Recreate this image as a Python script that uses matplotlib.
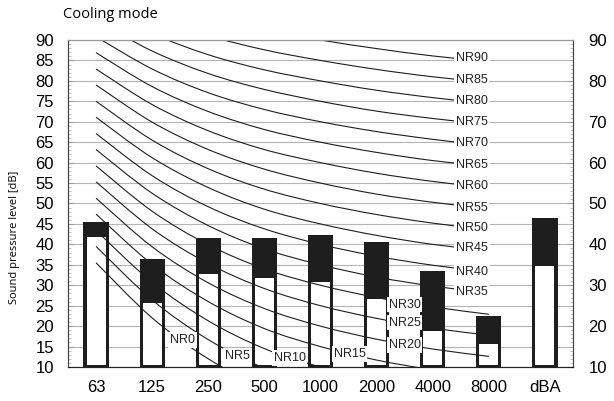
import matplotlib
matplotlib.use("Agg")
import matplotlib.pyplot as plt
from matplotlib.ticker import MultipleLocator
from matplotlib.path import Path
from matplotlib.patches import PathPatch

# octave bands + overall
bands = ["63", "125", "250", "500", "1000", "2000", "4000", "8000", "dBA"]
level_max = [45.5, 36.4, 41.5, 41.5, 42.4, 40.5, 33.5, 22.5, 46.4]
level_min = [41.9, 25.7, 32.7, 31.7, 30.8, 26.7, 18.8, 15.6, 34.6]

# NR rating curves, values at 63 ... 8000 Hz
nr_levels = [0, 5, 10, 15, 20, 25, 30, 35, 40, 45, 50, 55, 60, 65, 70, 75, 80, 85, 90]
nr_curves = [
    [35.5, 22.0, 12.0, 4.8, 0.0, -3.5, -6.1, -8.0],
    [39.5, 26.4, 16.7, 9.7, 5.0, 1.6, -1.0, -2.9],
    [43.4, 30.7, 21.3, 14.5, 10.0, 6.7, 4.2, 2.3],
    [47.4, 35.1, 26.0, 19.4, 15.0, 11.7, 9.3, 7.5],
    [51.3, 39.4, 30.6, 24.3, 20.0, 16.8, 14.4, 12.6],
    [55.3, 43.8, 35.3, 29.2, 25.0, 21.9, 19.5, 17.8],
    [59.2, 48.1, 39.9, 34.0, 30.0, 27.0, 24.7, 22.9],
    [63.2, 52.5, 44.6, 38.9, 35.0, 32.0, 29.8, 28.1],
    [67.1, 56.8, 49.2, 43.8, 40.0, 37.1, 34.9, 33.2],
    [71.1, 61.2, 53.9, 48.6, 45.0, 42.2, 40.0, 38.4],
    [75.0, 65.5, 58.5, 53.5, 50.0, 47.3, 45.2, 43.5],
    [79.0, 69.9, 63.2, 58.4, 55.0, 52.3, 50.3, 48.7],
    [82.9, 74.2, 67.8, 63.2, 60.0, 57.4, 55.4, 53.8],
    [86.9, 78.6, 72.5, 68.1, 65.0, 62.5, 60.5, 59.0],
    [90.8, 82.9, 77.1, 73.0, 70.0, 67.6, 65.7, 64.1],
    [94.8, 87.3, 81.8, 77.9, 75.0, 72.6, 70.8, 69.3],
    [98.7, 91.6, 86.4, 82.7, 80.0, 77.7, 75.9, 74.4],
    [102.7, 96.0, 91.1, 87.6, 85.0, 82.8, 81.0, 79.6],
    [106.6, 100.3, 95.7, 92.5, 90.0, 87.9, 86.1, 84.7],
]

# where the NR labels sit (band index, dB)
label_x = [1.54, 2.52, 3.45, 4.52, 5.5, 5.5, 5.5] + [6.7] * 12
label_y = [16.6, 12.7, 12.2, 13.2, 15.4, 20.8, 25.2, 28.4, 33.3, 39.2, 44.1,
           49.0, 54.4, 59.3, 64.7, 69.9, 75.0, 80.1, 85.7]

arial = "Liberation Sans"
dark = "#1e1e1e"


# smooth line through the points (Catmull-Rom drawn as cubic beziers)
def smooth_path(ys):
    pts = list(enumerate(ys))
    verts = [pts[0]]
    codes = [Path.MOVETO]
    for i in range(len(pts) - 1):
        p0 = pts[max(i - 1, 0)]
        p1, p2 = pts[i], pts[i + 1]
        p3 = pts[min(i + 2, len(pts) - 1)]
        c1 = (p1[0] + (p2[0] - p0[0]) / 6, p1[1] + (p2[1] - p0[1]) / 6)
        c2 = (p2[0] - (p3[0] - p1[0]) / 6, p2[1] - (p3[1] - p1[1]) / 6)
        verts += [c1, c2, p2]
        codes += [Path.CURVE4] * 3
    return Path(verts, codes)


fig = plt.figure(figsize=(6.14, 4.01), dpi=100)
ax = fig.add_axes([68 / 614, 1 - 367 / 401, 505 / 614, 327 / 401])

x = list(range(len(bands)))
base = 10

# black bar up to max, white inset up to min
ax.bar(x, [v - base for v in level_max], bottom=base, width=0.45, color=dark, zorder=2)
ax.bar(x, [v - base - 0.6 for v in level_min], bottom=base + 0.6, width=0.34,
       color="white", zorder=2)

for row in nr_curves:
    ax.add_patch(PathPatch(smooth_path(row), fill=False, edgecolor=dark, lw=0.8,
                           zorder=3))

for n, lx, ly in zip(nr_levels, label_x, label_y):
    ax.text(lx, ly, f"NR{n}", ha="center", va="center", fontsize=9, family=arial,
            color="#222222", zorder=4,
            bbox=dict(facecolor="white", edgecolor="none", pad=1.2))

ax.set_xlim(-0.5, 8.5)
ax.set_ylim(10, 90)
ax.set_xticks(x, bands)
ax.set_yticks(range(10, 91, 5))
ax.yaxis.set_minor_locator(MultipleLocator(1))
ax.yaxis.grid(True, color="#b4b4b4", lw=0.8)
ax.set_axisbelow(True)
ax.tick_params(axis="x", length=0, pad=9, labelsize=12)
ax.tick_params(axis="y", which="major", direction="in", length=4, color="#999999",
               width=0.6, pad=10, labelsize=12)
ax.tick_params(axis="y", which="minor", direction="in", length=2.5, color="#aaaaaa",
               width=0.5)
for lab in ax.get_xticklabels() + ax.get_yticklabels():
    lab.set_family(arial)

ax2 = ax.twinx()
ax2.set_ylim(10, 90)
ax2.set_yticks(range(10, 91, 10))
ax2.yaxis.set_minor_locator(MultipleLocator(1))
ax2.tick_params(axis="y", which="major", direction="in", length=4, color="#999999",
                width=0.6, pad=11, labelsize=12)
ax2.tick_params(axis="y", which="minor", direction="in", length=2.5, color="#aaaaaa",
                width=0.5)
for lab in ax2.get_yticklabels():
    lab.set_family(arial)

for a in (ax, ax2):
    a.spines["left"].set_color("#444444")
    a.spines["right"].set_color("#444444")
    a.spines["top"].set_color("#999999")
    a.spines["bottom"].set_color("#222222")
    for s in a.spines.values():
        s.set_linewidth(0.8)

fig.text(63 / 614, 1 - 15 / 401, "Cooling mode", fontsize=10.5, family="Open Sans",
         va="center", ha="left")
fig.text(15 / 614, 1 - 237 / 401, "Sound pressure level [dB]", fontsize=8,
         family="Open Sans", rotation=90, va="center", ha="center")

fig.savefig("out.png", dpi=100)
